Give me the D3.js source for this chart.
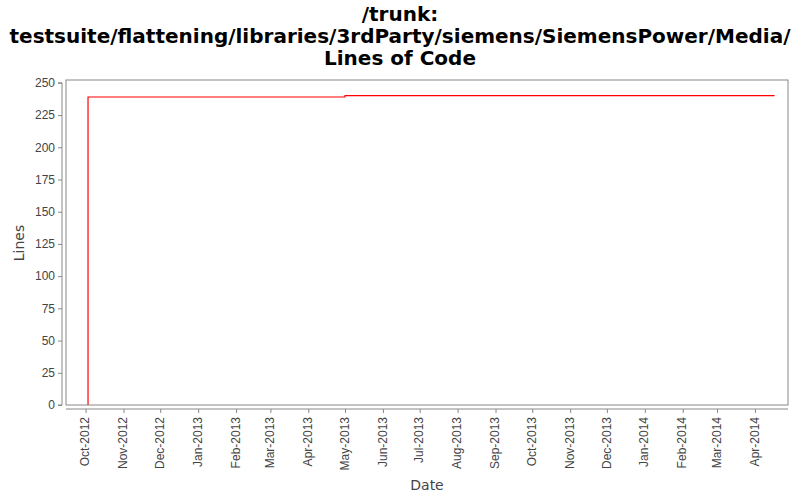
<!DOCTYPE html>
<html>
<head>
<meta charset="utf-8">
<script src="https://cdn.jsdelivr.net/npm/d3@7"></script>
<style>
  body { margin: 0; background: #fff; }
  svg { font-family: "DejaVu Sans", sans-serif; }
  .title { font-weight: bold; font-size: 20px; fill: #000; }
  .axis-label { font-size: 14px; fill: #444; }
  .tick text { font-size: 12px; fill: #444; }
  .tick line, .domain { stroke: #888; }
</style>
</head>
<body>
<svg id="chart" width="800" height="500"></svg>
<script>
const titleLines = [
  "/trunk:",
  "testsuite/flattening/libraries/3rdParty/siemens/SiemensPower/Media/",
  "Lines of Code"
];

const dates = ["2012-10-03", "2012-10-03", "2013-05-01", "2013-05-01", "2014-04-17"];
const lines = [0, 239, 239, 240, 240];

const yTicks = [0, 25, 50, 75, 100, 125, 150, 175, 200, 225, 250];

const parse = d3.timeParse("%Y-%m-%d");
const data = dates.map((d, i) => ({ date: parse(d), value: lines[i] }));

const margin = { top: 80, right: 12, bottom: 95, left: 66 };
const width = 800 - margin.left - margin.right;
const height = 500 - margin.top - margin.bottom;

const svg = d3.select("#chart");

svg.selectAll("text.title")
  .data(titleLines)
  .enter()
  .append("text")
  .attr("class", "title")
  .attr("x", 400)
  .attr("y", (d, i) => 21 + i * 22)
  .attr("text-anchor", "middle")
  .text(d => d);

const x = d3.scaleTime()
  .domain([parse("2012-09-15"), parse("2014-04-28")])
  .range([0, width]);

const y = d3.scaleLinear()
  .domain([0, 252.2])
  .range([height, 0]);

const g = svg.append("g")
  .attr("transform", `translate(${margin.left},${margin.top})`);

const line = d3.line()
  .x(d => x(d.date))
  .y(d => y(d.value));

g.append("path")
  .datum(data)
  .attr("fill", "none")
  .attr("stroke", "red")
  .attr("stroke-width", 1.2)
  .attr("d", line);

// plot frame on top
g.append("rect")
  .attr("width", width)
  .attr("height", height)
  .attr("fill", "none")
  .attr("stroke", "#888");

// y axis, offset from the frame
g.append("g")
  .attr("transform", "translate(-4,0)")
  .call(d3.axisLeft(y).tickValues(yTicks).tickSize(4).tickPadding(3))
  .call(a => a.select(".domain").attr("d", `M-4,${y(250)}H0V${height}H-4`));

// x axis, offset below the frame
const xAxis = g.append("g")
  .attr("transform", `translate(0,${height + 4})`)
  .call(d3.axisBottom(x)
    .ticks(d3.timeMonth.every(1))
    .tickFormat(d3.timeFormat("%b-%Y"))
    .tickSize(4)
    .tickSizeOuter(0));

xAxis.select(".domain").attr("d", `M0,0H${width}`);

xAxis.selectAll(".tick text")
  .attr("transform", "rotate(-90)")
  .attr("text-anchor", "end")
  .attr("dx", "-8")
  .attr("dy", "0")
  .attr("x", 0)
  .attr("y", 0)
  .style("dominant-baseline", "middle");

svg.append("text")
  .attr("class", "axis-label")
  .attr("transform", "translate(24,243) rotate(-90)")
  .attr("text-anchor", "middle")
  .text("Lines");

svg.append("text")
  .attr("class", "axis-label")
  .attr("x", 427)
  .attr("y", 490)
  .attr("text-anchor", "middle")
  .text("Date");
</script>
</body>
</html>
